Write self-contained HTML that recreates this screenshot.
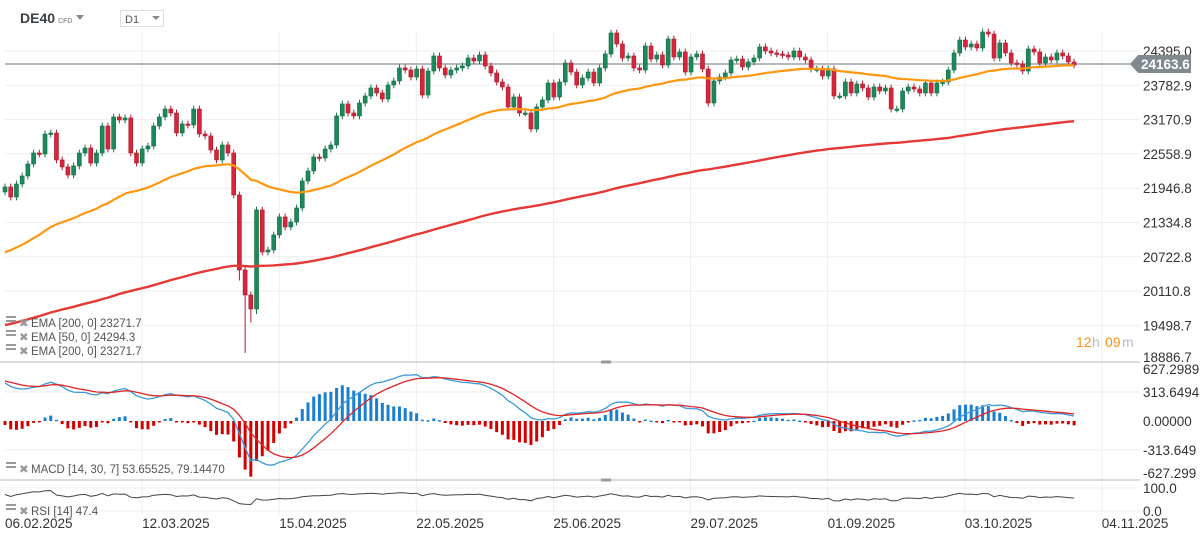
<!DOCTYPE html>
<html><head><meta charset="utf-8">
<style>
body{margin:0;background:#fff;font-family:"Liberation Sans",sans-serif;}
#wrap{position:relative;width:1203px;height:542px;overflow:hidden;}
svg text{font-family:"Liberation Sans",sans-serif;}
</style></head>
<body>
<div id="wrap">
<svg id="chart" width="1203" height="542"></svg>
</div>
<script>
const startDateLabels = ["06.02.2025","12.03.2025","15.04.2025","22.05.2025","25.06.2025","29.07.2025","01.09.2025","03.10.2025","04.11.2025"];
const priceTicks = [24395.0,23782.9,23170.9,22558.9,21946.8,21334.8,20722.8,20110.8,19498.7,18886.7];
const macdTicks = ["627.2989","313.6494","0.00000","-313.649","-627.299"];
const macdTickValues = [627.2989,313.6494,0,-313.649,-627.299];
const closes = [21969,21790,22022,22165,22379,22575,22558,22914,22932,22451,22326,22183,22344,22575,22665,22397,22575,23057,22647,23218,23164,23200,22575,22397,22647,22700,23057,23218,23360,23289,22932,23093,23075,23360,22914,22879,22629,22451,22718,22575,21826,20488,20042,19792,21559,20809,20845,21113,21434,21255,21344,21594,22076,22254,22504,22486,22647,22718,23236,23450,23289,23236,23467,23592,23735,23646,23539,23789,23860,24092,24056,23931,24074,23610,24038,24306,24092,23967,24056,24092,24128,24270,24217,24324,24128,24003,23842,23753,23396,23574,23289,23289,23004,23396,23521,23824,23574,23842,24181,24020,23789,23913,24020,23824,24092,24342,24716,24520,24270,24306,24092,24056,24484,24252,24324,24145,24609,24288,24377,24020,24288,24342,24074,23467,23860,23931,24003,24235,24252,24110,24199,24270,24467,24395,24360,24342,24324,24288,24395,24288,24235,24074,24074,23949,24074,23592,23592,23842,23646,23806,23735,23574,23753,23682,23735,23360,23360,23682,23753,23717,23646,23824,23646,23824,23842,24056,24360,24591,24467,24520,24449,24734,24698,24270,24538,24360,24181,24163,24038,24431,24377,24181,24288,24235,24360,24306,24199,24145];
const firstOpen = 21880;
const wickSize = 60;
const lowOverrideIdx = [41,42,43,44];
const lowOverrideVal = [20300,19008,19550,19700];
const ema50Seed = 20756;
const ema200Seed = 19480;
const macdSeed = 440;
const rsiSeed = 62;
const currentPrice = 24163.6;

const NS="http://www.w3.org/2000/svg";
const svg=document.getElementById('chart');
function el(tag,attrs,parent){const e=document.createElementNS(NS,tag);for(const k in attrs)e.setAttribute(k,attrs[k]);(parent||svg).appendChild(e);return e;}
const X0=5, DX=5.717;
const xOf=i=>X0+i*DX;
const yP=p=>51+(24395-p)*34.3/612.03;
const yM=v=>421-v*29/313.65;
const yR=r=>510-r*0.25;

const g=el('g',{});


priceTicks.slice(0,9).forEach(p=>el('line',{x1:5,x2:1140,y1:yP(p),y2:yP(p),stroke:'#eeeeee','stroke-width':1},g));
[392,450].forEach(y=>el('line',{x1:5,x2:1140,y1:y,y2:y,stroke:'#eeeeee'},g));
[488,511].forEach(y=>el('line',{x1:5,x2:1140,y1:y,y2:y,stroke:'#f0f0f0'},g));
startDateLabels.forEach((d,k)=>{const x=5+k*137.1;if(k>0)el('line',{x1:x,x2:x,y1:32,y2:515,stroke:'#eeeeee'},g);});

const opens=closes.map((c,i)=>i===0?firstOpen:closes[i-1]);
const highs=closes.map((c,i)=>Math.max(c,opens[i])+wickSize);
const lows=closes.map((c,i)=>{const k=lowOverrideIdx.indexOf(i);return k>=0?lowOverrideVal[k]:Math.min(c,opens[i])-wickSize;});
function ema(arr,n,seed){const a=2/(n+1);let e=seed;return arr.map(v=>(e=e+a*(v-e)));}
const ema50=ema(closes,50,ema50Seed), ema200=ema(closes,200,ema200Seed);
const e14=ema(closes,14,closes[0]), e30=ema(closes,30,closes[0]-macdSeed);
const macd=e14.map((v,i)=>v-e30[i]);
const signal=ema(macd,7,macdSeed);
let ag=rsiSeed, al=100-rsiSeed;
const rsi=closes.map((c,i)=>{const d=i===0?0:c-closes[i-1];ag=(ag*13+Math.max(d,0))/14;al=(al*13+Math.max(-d,0))/14;return 100-100/(1+ag/(al||1));});

const pl=el('line',{x1:5,x2:1135,y1:yP(currentPrice),y2:yP(currentPrice),stroke:'#8a8f92','stroke-width':1.2});



const cg=el('g',{});


closes.forEach((c,i)=>{
  const up=c>=opens[i];const col=up?'#1b8a5a':'#d8253b';const x=xOf(i);
  const w=el('line',{x1:x,x2:x,y1:yP(highs[i]),y2:yP(lows[i]),stroke:up?'#17724a':'#b51d30','stroke-width':1},cg);
  
  
  const t=Math.min(yP(c),yP(opens[i])),h=Math.max(1.5,Math.abs(yP(c)-yP(opens[i])));
  const b=el('rect',{x:x-2,y:t,width:4,height:h,fill:col,stroke:up?'#146b44':'#a81a2c','stroke-width':0.6},cg);
  
  
});
function path(vals,yf,col,w,name){const d=vals.map((v,i)=>(i?'L':'M')+xOf(i).toFixed(1)+' '+yf(v).toFixed(1)).join('');const p=el('path',{d:d,fill:'none',stroke:col,'stroke-width':w});return p;}
path(ema50,yP,'#ff9810',2.2,'ema-50-line');
path(ema200,yP,'#e53935',2.4,'ema-200-line');

[362,480].forEach(y=>{const s=el('line',{x1:0,x2:1140,y1:y,y2:y,stroke:'#d0d0d0','stroke-width':1.5});el('rect',{x:601,y:y-1.5,width:10,height:3,fill:'#999'});});

const hg=el('g',{});


macd.forEach((m,i)=>{const h=(m-signal[i])*2.0;const y0=yM(0),y1=yM(h);const r=el('rect',{x:xOf(i)-1.5,y:Math.min(y0,y1),width:3,height:Math.max(1.5,Math.abs(y1-y0)),fill:h>=0?'#1a7fd0':'#d40000'},hg);});
path(macd,yM,'#3a9ad9',1.3,'macd-line');
path(signal,yM,'#e02424',1.3,'signal-line');
path(rsi,yR,'#444',1,'rsi-line');

const ax=el('g',{'font-size':13.5,fill:'#333'});


priceTicks.forEach(p=>{const t=el('text',{x:1143,y:(p===18886.7?357:yP(p))+5},ax);t.textContent=p.toFixed(1);});
macdTicks.forEach((s,k)=>{const t=el('text',{x:1143,y:[369,392,421,450,473][k]+5},ax);t.textContent=s;});
[['100.0',488],['0.0',511]].forEach(a=>{const t=el('text',{x:1143,y:a[1]+5},ax);t.textContent=a[0];});
const lb=el('g',{});


const yc=yP(currentPrice);
el('path',{d:`M1130 ${yc} L1138 ${yc-9} L1191 ${yc-9} L1191 ${yc+9} L1138 ${yc+9}Z`,fill:'#7f8a8e'},lb);
const lt=el('text',{x:1141,y:yc+5,'font-size':13.5,'font-weight':'bold',fill:'#fff'},lb);lt.textContent=currentPrice.toFixed(1);

const dg=el('g',{'font-size':13.5,fill:'#333'});


startDateLabels.forEach((d,k)=>{const t=el('text',{x:5+k*137.1,y:528},dg);t.textContent=d;});
</script>
<svg width="1203" height="542" style="position:absolute;left:0;top:0">
<g>
<text x="20" y="23" font-size="14" font-weight="bold" fill="#3a3f44">DE40</text>
<text x="58" y="23" font-size="7" font-weight="bold" fill="#999">CFD</text>
<path d="M76 15 L84 15 L80 20Z" fill="#888"/>
</g>
<g>
<rect x="120.5" y="10.5" width="43" height="16" fill="#fff" stroke="#ddd"/>
<text x="125" y="23" font-size="11" fill="#555">D1</text>
<path d="M152 16 L160 16 L156 20Z" fill="#888"/>
</g>
<g font-size="11.5" fill="#555">
<g><rect x="6" y="316" width="10" height="2" fill="#999"/><rect x="6" y="320" width="10" height="2" fill="#999"/><text x="19" y="327" fill="#999">✖</text><text x="31" y="327">EMA [200, 0] 23271.7</text></g>
<g><rect x="6" y="330" width="10" height="2" fill="#999"/><rect x="6" y="334" width="10" height="2" fill="#999"/><text x="19" y="341" fill="#999">✖</text><text x="31" y="341">EMA [50, 0] 24294.3</text></g>
<g><rect x="6" y="344" width="10" height="2" fill="#999"/><rect x="6" y="348" width="10" height="2" fill="#999"/><text x="19" y="355" fill="#999">✖</text><text x="31" y="355">EMA [200, 0] 23271.7</text></g>
<g><rect x="6" y="462" width="10" height="2" fill="#999"/><rect x="6" y="466" width="10" height="2" fill="#999"/><text x="19" y="473" fill="#999">✖</text><text x="31" y="473">MACD [14, 30, 7] 53.65525,  79.14470</text></g>
<g><rect x="6" y="504" width="10" height="2" fill="#999"/><rect x="6" y="508" width="10" height="2" fill="#999"/><text x="19" y="515" fill="#999">✖</text><text x="31" y="515">RSI [14] 47.4</text></g>
</g>
<g font-size="14">
<text x="1076" y="347" fill="#f7931e">12</text><text x="1092" y="347" fill="#bbb">h</text><text x="1105" y="347" fill="#f7931e">09</text><text x="1122" y="347" fill="#bbb">m</text>
</g>
</svg>
</body></html>
